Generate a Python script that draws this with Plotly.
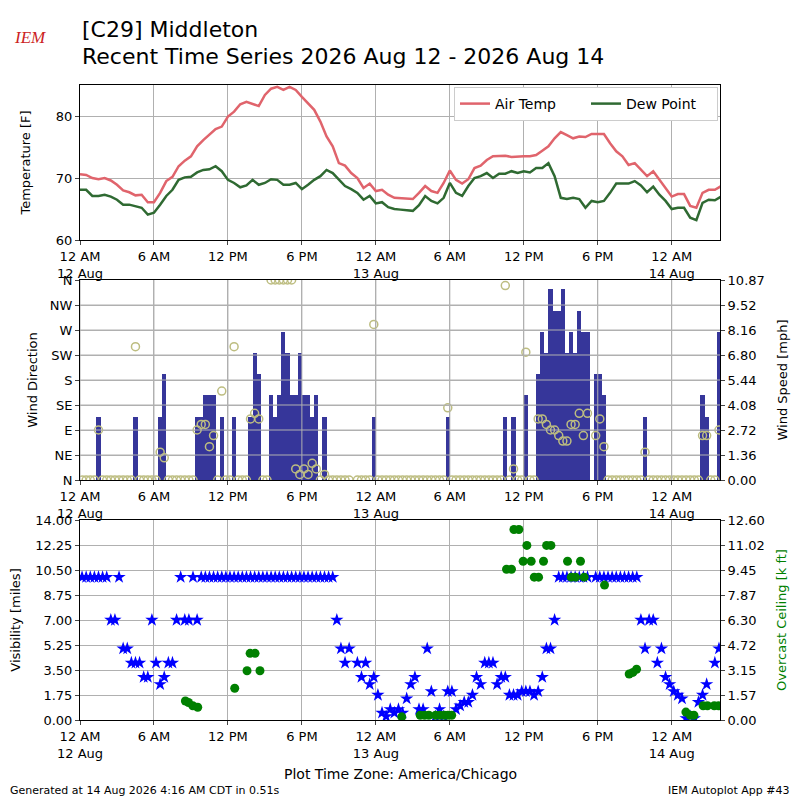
import numpy as np
import pandas as pd
import plotly.graph_objects as go

START = pd.Timestamp("2026-08-12 00:00")
END = pd.Timestamp("2026-08-14 03:55")

# temperatures every 30 minutes from midnight Aug 12 [F]
air_temp = [
    70.6, 70.5, 70.0, 69.8, 70.0, 69.6, 68.9, 68.0, 67.7, 67.2, 67.3, 66.1,
    66.1, 67.6, 69.5, 70.2, 71.9, 72.8, 73.5, 75.1, 76.1, 77.0, 77.9, 78.3,
    79.9, 80.7, 81.9, 82.3, 81.9, 81.6, 83.4, 84.4, 84.7, 84.2, 84.7, 84.2,
    83.1, 82.1, 81.0, 79.1, 76.7, 75.1, 72.4, 72.0, 70.8, 70.0, 68.4, 69.1,
    67.9, 68.1, 67.3, 66.8, 66.7, 66.6, 66.6, 67.6, 68.7, 67.9, 67.6, 69.2,
    71.2, 69.7, 69.1, 69.8, 71.6, 72.0, 72.9, 73.5, 73.6, 73.6, 73.4, 73.5,
    73.5, 73.5, 73.7, 74.4, 75.1, 76.4, 77.4, 76.9, 76.4, 76.7, 76.6, 77.1,
    77.1, 77.1, 75.6, 74.3, 73.5, 72.1, 72.4, 71.4, 70.3, 71.1, 69.7, 68.4,
    67.0, 67.4, 67.4, 65.5, 65.2, 67.6, 68.1, 68.1, 68.7,
]
dew_point = [
    68.1, 68.1, 67.1, 67.1, 67.3, 67.0, 66.5, 65.7, 65.7, 65.5, 65.2, 64.1,
    64.4, 65.7, 67.1, 68.1, 69.7, 70.1, 70.2, 70.9, 71.3, 71.4, 71.9, 71.1,
    69.7, 69.2, 68.5, 68.8, 69.7, 68.9, 69.2, 69.8, 69.7, 68.9, 68.9, 69.2,
    68.2, 68.9, 69.7, 70.3, 71.3, 70.8, 69.8, 68.7, 68.2, 67.6, 66.5, 67.1,
    65.9, 66.1, 65.3, 65.0, 64.9, 64.8, 64.7, 65.6, 67.1, 66.3, 65.9, 66.8,
    69.2, 67.6, 67.1, 68.7, 70.0, 70.3, 70.8, 70.0, 70.7, 70.7, 71.1, 70.8,
    71.1, 70.9, 71.6, 71.6, 72.4, 70.3, 66.8, 66.6, 66.8, 66.6, 65.2, 66.3,
    66.1, 66.3, 67.6, 69.1, 69.1, 69.1, 69.5, 68.8, 67.7, 68.6, 67.3, 66.3,
    65.0, 65.2, 65.2, 63.6, 63.2, 66.0, 66.5, 66.4, 67.0,
]

# 20 minute observations starting 00:10 Aug 12 (12 per row = 4 hours)
wind_speed = [  # mph
    0, 0, 0, 0, 3.45, 0, 0, 0, 0, 0, 0, 0,
    0, 3.45, 0, 0, 0, 0, 0, 3.45, 5.75, 0, 0, 0,
    0, 0, 0, 0, 3.45, 3.45, 4.6, 4.6, 4.6, 0, 3.45, 0,
    0, 3.45, 0, 0, 0, 3.45, 6.9, 5.75, 0, 0, 4.6, 3.45,
    4.6, 8.06, 6.9, 4.6, 4.6, 6.9, 4.6, 4.6, 3.45, 4.6, 0, 3.45,
    0, 0, 0, 0, 0, 0, None, 0, 0, 0, 0, 3.45,
    0, 0, 0, 0, 0, 0, 0, 0, 0, 0, 0, 0,
    0, 0, 0, 0, 0, 3.45, 0, 0, 0, 0, 0, 0,
    0, 0, 0, 0, 0, 0, 0, 3.45, 0, 3.45, 0, 0,
    4.6, 0, 0, 5.75, 8.06, 6.9, 10.36, 9.21, 9.21, 10.36, 6.9, 8.06,
    6.9, 9.21, 8.06, 8.06, None, 5.75, 5.75, 4.6, 0, 0, 0, 0,
    0, 0, 0, 0, 0, 3.45, 0, 0, 0, 0, 0, 0,
    0, 0, 0, 0, 0, 0, 0, 4.6, 3.45, 0, 0, 8.06,
]
wind_dir = [  # degrees
    0, 0, 0, 0, 90, 0, 0, 0, 0, 0, 0, 0,
    0, 240, 0, 0, 0, 0, 0, 50, 40, 0, 0, 0,
    0, 0, 0, 0, 90, 100, 100, 60, 80, 0, 160, 0,
    0, 240, 0, 0, 0, 110, 120, 110, 0, 0, 360, 360,
    360, 360, 360, 360, 20, 10, 20, 10, 30, 20, 0, 10,
    0, 0, 0, 0, 0, 0, None, 0, 0, 0, 0, 280,
    0, 0, 0, 0, 0, 0, 0, 0, 0, 0, 0, 0,
    0, 0, 0, 0, 0, 130, 0, 0, 0, 0, 0, 0,
    0, 0, 0, 0, 0, 0, 0, 350, 0, 20, 0, 0,
    230, 0, 0, 110, 110, 100, 90, 90, 80, 70, 70, 100,
    100, 120, 80, 120, None, 80, 110, 60, 0, 0, 0, 0,
    0, 0, 0, 0, 0, 50, 0, 0, 0, 0, 0, 0,
    0, 0, 0, 0, 0, 0, 0, 80, 80, 0, 0, 90,
]
visibility = [  # miles
    10, 10, 10, 10, 10, 10, 10, 7, 7, 10, 5, 5,
    4, 4, 4, 3, 3, 7, 4, 2.5, 3, 4, 4, 7,
    10, 7, 7, 10, 7, 10, 10, 10, 10, 10, 10, 10,
    10, 10, 10, 10, 10, 10, 10, 10, 10, 10, 10, 10,
    10, 10, 10, 10, 10, 10, 10, 10, 10, 10, 10, 10,
    10, 10, 7, 5, 4, 5, None, 4, 3, 4, 2.5, 3,
    1.75, 0.5, 0.25, 0.75, 0.5, 0.75, 0.5, 1.5, 2.5, 3, 0.75, 0.75,
    5, 2, 0.25, 0.75, 0.25, 2, 2, 0.75, 1, 1.25, 1.25, 1.75,
    3, 2.5, 4, 4, 4, 2.5, 3, 3, 1.75, 1.75, 1.75, 2,
    2, 2, 1.75, 2, 3, 5, 5, 7, 10, 10, 10, 10,
    10, 10, 10, 10, None, 10, 10, 10, 10, 10, 10, 10,
    10, 10, 10, 10, 7, 5, 7, 7, 4, 5, 3, 2.5,
    2, 1.75, 1.5, 0.12, 0.25, 0.12, 1.25, 1.75, 2.5, None, 4, 5,
]

# overcast ceiling reports: hours after midnight Aug 12, height [k ft]
ceiling_hours = [
    8.55, 8.8, 9.15, 9.55, 12.55, 13.55, 13.8, 14.2, 14.6,
    26.1, 27.6, 27.95, 28.3, 28.85, 29.2, 29.55, 29.85, 30.15,
    34.6, 35.0, 35.2, 35.6, 35.95, 36.25, 36.6, 36.85, 37.2, 37.6, 37.85, 38.2,
    39.55, 39.85, 40.2, 40.6, 40.9, 42.55, 44.55, 44.85, 45.15,
    49.15, 49.5, 49.8, 50.55, 50.9, 51.45, 51.8,
]
ceiling = [
    1.2, 1.1, 0.9, 0.8, 2.0, 3.1, 4.2, 4.2, 3.1,
    0.2, 0.3, 0.3, 0.3, 0.3, 0.3, 0.3, 0.3, 0.3,
    9.5, 9.5, 12.0, 12.0, 10.0, 11.0, 10.0, 9.0, 9.0, 10.0, 11.0, 11.0,
    10.0, 9.0, 9.0, 10.0, 9.0, 8.5, 2.9, 3.0, 3.2,
    0.5, 0.3, 0.3, 0.9, 0.9, 0.9, 0.9,
]

dir_labels = ["N", "NE", "E", "SE", "S", "SW", "W", "NW", "N"]
speed_labels = ["0.00", "1.36", "2.72", "4.08", "5.44", "6.80", "8.16", "9.52", "10.87"]
ceiling_labels = ["0.00", "1.57", "3.15", "4.72", "6.30", "7.87", "9.45", "11.02", "12.60"]

temp_times = START + pd.to_timedelta(np.arange(len(air_temp)) * 30, unit="min")
obs_times = START + pd.to_timedelta(10 + np.arange(len(wind_speed)) * 20, unit="min")
ceil_times = START + pd.to_timedelta(np.round(np.array(ceiling_hours) * 60), unit="min")

SPEED_MAX = 10.357 * 1.05
tick_times = pd.date_range(START, END, freq="6h")
tick_text = []
for t in tick_times:
    lab = t.strftime("%I %p").lstrip("0")
    if t.hour == 0:
        lab += "<br>" + t.strftime("%d %b").lstrip("0")
    tick_text.append(lab)

FONT = "DejaVu Sans"
GRID = "#b0b0b0"

fig = go.Figure()
fig.add_trace(go.Scatter(x=temp_times, y=air_temp, mode="lines", name="Air Temp",
                         line=dict(color="#e0646c", width=2.5), xaxis="x", yaxis="y"))
fig.add_trace(go.Scatter(x=temp_times, y=dew_point, mode="lines", name="Dew Point",
                         line=dict(color="#2f6a32", width=2.5), xaxis="x", yaxis="y"))
fig.add_trace(go.Bar(x=obs_times, y=wind_speed, width=20 * 60 * 1000, marker_color="#36369a",
                     marker_line_width=0, showlegend=False, xaxis="x2", yaxis="y2"))
fig.add_trace(go.Scatter(x=obs_times, y=wind_dir, mode="markers", showlegend=False,
                         marker=dict(symbol="circle-open", size=8, color="#bdbd80",
                                     line=dict(width=1.5)),
                         xaxis="x2", yaxis="y3"))
fig.add_trace(go.Scatter(x=obs_times, y=visibility, mode="markers", showlegend=False,
                         marker=dict(symbol="star", size=10, color="#0000ff"),
                         xaxis="x3", yaxis="y4"))
fig.add_trace(go.Scatter(x=ceil_times, y=ceiling, mode="markers", showlegend=False,
                         marker=dict(symbol="circle", size=9, color="#008000"),
                         xaxis="x3", yaxis="y5"))

# the page body adds an 8px offset, so domains are shifted to match
xcommon = dict(type="date", range=[START, END], tickvals=tick_times, ticktext=tick_text,
               tickangle=0, showgrid=True, gridcolor=GRID, showline=True, mirror=True,
               linecolor="black", ticks="outside", ticklen=4, tickfont=dict(size=13),
               domain=[0.09, 0.89], automargin=False)
ycommon = dict(showline=True, mirror=True, linecolor="black", ticks="outside", ticklen=4,
               tickfont=dict(size=13), automargin=False, zeroline=False,
               title_font=dict(size=13))

fig.update_layout(
    template="none",
    width=800, height=800,
    margin=dict(l=0, r=0, t=0, b=0),
    paper_bgcolor="white", plot_bgcolor="white",
    font=dict(family=FONT, color="black"),
    bargap=0,
    xaxis=dict(xcommon, anchor="y"),
    xaxis2=dict(xcommon, anchor="y2"),
    xaxis3=dict(xcommon, anchor="y4"),
    yaxis=dict(ycommon, domain=[0.71, 0.90375], range=[60, 85], tickvals=[60, 70, 80],
               showgrid=True, gridcolor=GRID, title=dict(text="Temperature [F]", standoff=22)),
    yaxis2=dict(ycommon, domain=[0.41, 0.66], anchor="x2", side="right", range=[0, SPEED_MAX],
                tickvals=[i * SPEED_MAX / 8 for i in range(9)], ticktext=speed_labels,
                showgrid=False, title=dict(text="Wind Speed [mph]", standoff=14)),
    yaxis3=dict(ycommon, overlaying="y2", anchor="x2", side="left", range=[0, 360],
                tickvals=[i * 45 for i in range(9)], ticktext=dir_labels,
                showgrid=True, gridcolor=GRID, title=dict(text="Wind Direction", standoff=9)),
    yaxis4=dict(ycommon, domain=[0.11, 0.36], anchor="x3", side="left", range=[0, 14],
                tickvals=[i * 1.75 for i in range(9)],
                ticktext=["%.2f" % (i * 1.75) for i in range(9)],
                showgrid=True, gridcolor=GRID, title=dict(text="Visibility [miles]", standoff=11)),
    yaxis5=dict(ycommon, overlaying="y4", anchor="x3", side="right", range=[0, 12.6],
                tickvals=[i * 12.6 / 8 for i in range(9)], ticktext=ceiling_labels,
                showgrid=False,
                title=dict(text="Overcast Ceiling [k ft]", standoff=13, font=dict(color="#008000"))),
    legend=dict(x=0.8875, y=0.90125, xanchor="right", yanchor="top", orientation="h",
                bgcolor="white", bordercolor="#cccccc", borderwidth=1, font=dict(size=14),
                entrywidth=86, entrywidthmode="pixels"),
)

# wind panel grid drawn over the bars
for t in tick_times:
    fig.add_shape(type="line", xref="x2", yref="y3 domain", x0=t, x1=t, y0=0, y1=1,
                  line=dict(color=GRID, width=1), layer="above")
for d in range(45, 360, 45):
    fig.add_shape(type="line", xref="x2 domain", yref="y3", x0=0, x1=1, y0=d, y1=d,
                  line=dict(color=GRID, width=1), layer="above")

fig.add_annotation(text="[C29] Middleton", x=0.09, y=0.9725, xref="paper", yref="paper",
                   xanchor="left", yanchor="middle", showarrow=False, font=dict(size=22))
fig.add_annotation(text="Recent Time Series 2026 Aug 12 - 2026 Aug 14", x=0.09, y=0.94,
                   xref="paper", yref="paper", xanchor="left", yanchor="middle",
                   showarrow=False, font=dict(size=22))
fig.add_annotation(text="<i>IEM</i>", x=0.0275, y=0.9625, xref="paper", yref="paper",
                   xanchor="center", yanchor="middle", showarrow=False,
                   font=dict(size=17, color="#cc2222", family="Liberation Serif"))
fig.add_annotation(text="Plot Time Zone: America/Chicago", x=0.49, y=0.0425, xref="paper",
                   yref="paper", xanchor="center", yanchor="middle", showarrow=False,
                   font=dict(size=14))
fig.add_annotation(text="Generated at 14 Aug 2026 4:16 AM CDT in 0.51s", x=0.0, y=0.0225,
                   xref="paper", yref="paper", xanchor="left", yanchor="middle",
                   showarrow=False, font=dict(size=11))
fig.add_annotation(text="IEM Autoplot App #43", x=0.98, y=0.0225, xref="paper", yref="paper",
                   xanchor="right", yanchor="middle", showarrow=False, font=dict(size=11))

fig.write_html("out.html")
